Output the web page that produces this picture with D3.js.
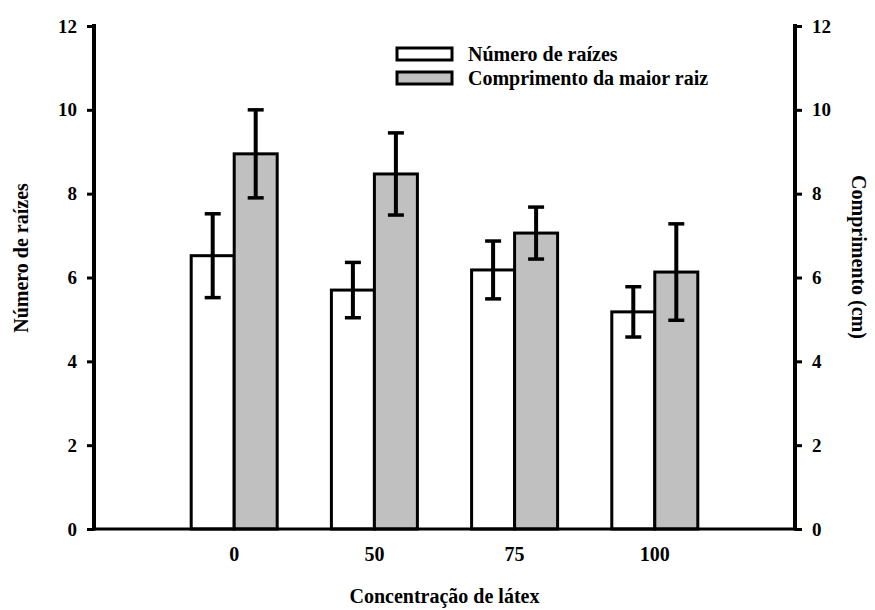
<!DOCTYPE html>
<html>

<head>
	<title>Número de raízes e comprimento</title>
	<style>
		html,
		body {
			margin: 0;
			background: white;
		}

		svg text {
			font-family: "Liberation Serif", "Times New Roman", serif;
			font-weight: bold;
			font-size: 20px;
			fill: black;
		}

		svg .tick text {
			font-size: 19px;
		}
	</style>
	<script src="https://cdn.jsdelivr.net/npm/d3@7/dist/d3.min.js"></script>
</head>

<body>
	<svg id="svg" width="875" height="610"></svg>

	<script>
		// data
		const categories = ['0', '50', '75', '100'];
		const raizes = [6.52, 5.70, 6.18, 5.18];
		const raizesErr = [1.0, 0.66, 0.69, 0.60];
		const comprimento = [8.95, 8.47, 7.06, 6.13];
		const comprimentoErr = [1.05, 0.98, 0.62, 1.15];
		const yTicks = [0, 2, 4, 6, 8, 10, 12];

		const svg = d3.select('#svg');
		const plotLeft = 94, plotRight = 795, plotTop = 26, plotBottom = 529;

		// empty slots at both ends so the groups sit like in the original
		const x = d3.scalePoint()
			.domain(['start'].concat(categories, ['end']))
			.range([plotLeft, plotRight]);
		const barW = 43;

		const yL = d3.scaleLinear().domain([0, 12]).range([plotBottom, plotTop]);
		const yR = d3.scaleLinear().domain([0, 12]).range([plotBottom, plotTop]);

		const series = [
			{ name: 'Número de raízes', values: raizes, err: raizesErr, fill: 'white', scale: yL, off: -1 },
			{ name: 'Comprimento da maior raiz', values: comprimento, err: comprimentoErr, fill: '#c0c0c0', scale: yR, off: 0 }
		];

		// bars
		series.forEach(s => {
			svg.append('g').selectAll('rect')
				.data(categories)
				.join('rect')
				.attr('x', c => x(c) + s.off * barW)
				.attr('y', (c, i) => s.scale(s.values[i]))
				.attr('width', barW)
				.attr('height', (c, i) => plotBottom - s.scale(s.values[i]))
				.attr('fill', s.fill)
				.attr('stroke', 'black')
				.attr('stroke-width', 3);
		});

		// error bars
		series.forEach(s => {
			const g = svg.append('g').attr('stroke', 'black').attr('stroke-width', 4);
			categories.forEach((c, i) => {
				const cx = x(c) + s.off * barW + barW / 2;
				const hi = s.scale(s.values[i] + s.err[i]);
				const lo = s.scale(s.values[i] - s.err[i]);
				g.append('line').attr('x1', cx).attr('x2', cx).attr('y1', hi).attr('y2', lo);
				g.append('line').attr('x1', cx - 8).attr('x2', cx + 8).attr('y1', hi).attr('y2', hi).attr('stroke-width', 3.5);
				g.append('line').attr('x1', cx - 8).attr('x2', cx + 8).attr('y1', lo).attr('y2', lo).attr('stroke-width', 3.5);
			});
		});

		// baseline
		svg.append('line')
			.attr('x1', plotLeft).attr('x2', plotRight)
			.attr('y1', plotBottom).attr('y2', plotBottom)
			.attr('stroke', 'black').attr('stroke-width', 3);

		// axes
		const axL = svg.append('g')
			.attr('transform', `translate(${plotLeft},0)`)
			.call(d3.axisLeft(yL).tickValues(yTicks).tickSize(7).tickPadding(10));
		const axR = svg.append('g')
			.attr('transform', `translate(${plotRight},0)`)
			.call(d3.axisRight(yR).tickValues(yTicks).tickSize(7).tickPadding(10));
		[axL, axR].forEach(a => {
			a.attr('font-size', null).attr('font-family', null);
			a.select('.domain').attr('stroke-width', 4).attr('d', `M0,${plotTop - 2}V${plotBottom + 1.5}`);
			a.selectAll('.tick line').attr('stroke-width', 3);
		});

		// category labels
		svg.append('g').selectAll('text')
			.data(categories)
			.join('text')
			.attr('x', c => x(c))
			.attr('y', 561)
			.attr('text-anchor', 'middle')
			.text(c => c);

		// axis titles
		svg.append('text')
			.attr('x', (plotLeft + plotRight) / 2)
			.attr('y', 603)
			.attr('text-anchor', 'middle')
			.text('Concentração de látex');

		svg.append('text')
			.attr('transform', 'translate(28,258) rotate(-90)')
			.attr('text-anchor', 'middle')
			.text('Número de raízes');

		svg.append('text')
			.attr('transform', 'translate(852,257) rotate(90)')
			.attr('text-anchor', 'middle')
			.text('Comprimento (cm)');

		// legend
		const legend = svg.append('g').attr('transform', 'translate(397,48)');
		series.forEach((s, i) => {
			legend.append('rect')
				.attr('x', 0).attr('y', i * 24)
				.attr('width', 55).attr('height', 12)
				.attr('fill', s.fill)
				.attr('stroke', 'black').attr('stroke-width', 3);
			legend.append('text')
				.attr('x', 71).attr('y', i * 24 + 13)
				.text(s.name);
		});
	</script>
</body>

</html>
